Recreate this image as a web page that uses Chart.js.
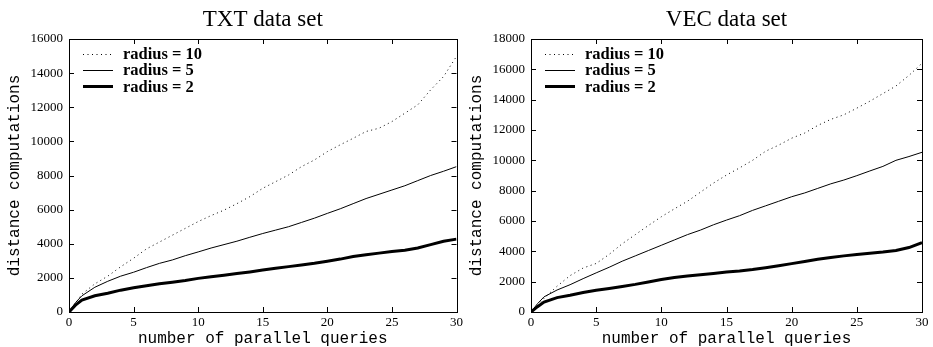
<!DOCTYPE html>
<html>
<head>
<meta charset="utf-8">
<script src="https://cdn.jsdelivr.net/npm/chart.js@4"></script>
<style>
  html, body { margin: 0; padding: 0; background: #fff; }
  body { width: 933px; height: 347px; position: relative; overflow: hidden; }
  canvas { position: absolute; top: 0; }
  #txt { left: 0; }
  #vec { left: 462px; }
</style>
</head>
<body>
<canvas id="txt" width="466" height="347"></canvas>
<canvas id="vec" width="471" height="347"></canvas>
<script>
// number of parallel queries (x values shared by all series)
const queries = [0, 0.5, 1, 2, 3, 4, 5, 6, 7, 8, 9, 10, 11, 12, 13, 14, 15,
  16, 17, 18, 19, 20, 21, 22, 23, 24, 25, 26, 27, 28, 29, 30];

const seriesLabels = ['radius = 10', 'radius = 5', 'radius = 2'];

// TXT data set
const txtRadius10 = [0, 500, 1050, 1650, 2100, 2650, 3150, 3700, 4100, 4500, 4900, 5300,
  5650, 5970, 6350, 6760, 7250, 7640, 8030, 8520, 8910, 9400, 9800, 10180, 10580, 10770,
  11160, 11650, 12140, 13020, 13800, 14980];
const txtRadius5 = [0, 550, 950, 1450, 1800, 2100, 2330, 2600, 2850, 3050, 3300, 3520,
  3750, 3950, 4150, 4380, 4600, 4800, 5000, 5250, 5500, 5780, 6050, 6350, 6650, 6900,
  7150, 7400, 7700, 8000, 8250, 8520];
const txtRadius2 = [0, 400, 700, 950, 1100, 1280, 1420, 1540, 1650, 1750, 1850, 1970,
  2070, 2160, 2250, 2350, 2460, 2560, 2660, 2760, 2860, 2980, 3100, 3250, 3350, 3450,
  3540, 3620, 3750, 3950, 4150, 4270];

// VEC data set
const vecRadius10 = [0, 450, 900, 1700, 2400, 2900, 3200, 3800, 4500, 5100, 5700, 6280,
  6800, 7300, 7900, 8500, 9030, 9500, 10000, 10600, 11000, 11460, 11800, 12300, 12700,
  13000, 13440, 13900, 14400, 14900, 15600, 16400];
const vecRadius5 = [0, 550, 1000, 1450, 1800, 2200, 2580, 2950, 3350, 3700, 4050, 4400,
  4750, 5100, 5400, 5750, 6060, 6350, 6700, 7000, 7300, 7600, 7850, 8150, 8450, 8700,
  8990, 9300, 9600, 10000, 10250, 10530];
const vecRadius2 = [0, 350, 650, 950, 1100, 1280, 1430, 1550, 1680, 1820, 1980, 2140,
  2280, 2370, 2450, 2540, 2640, 2700, 2800, 2920, 3050, 3190, 3330, 3480, 3600, 3700,
  3790, 3880, 3950, 4050, 4250, 4580];

const serif = "'Liberation Serif', 'Times New Roman', serif";
const mono = "'Liberation Mono', 'Courier New', monospace";

// line styles for radius 10 / 5 / 2
const styles = [
  { borderWidth: 1, borderDash: [1, 3.5] },
  { borderWidth: 1, borderDash: [] },
  { borderWidth: 3, borderDash: [] }
];

function pairs(ys) {
  return ys.map((y, i) => ({ x: queries[i], y: y }));
}

// frame + inward ticks on all four sides
const framePlugin = {
  id: 'frame',
  afterDraw(chart) {
    const { ctx, chartArea: a, scales } = chart;
    const len = 5;
    ctx.save();
    ctx.strokeStyle = '#000';
    ctx.lineWidth = 1;
    ctx.setLineDash([]);
    ctx.strokeRect(Math.round(a.left) + 0.5, Math.round(a.top) + 0.5,
      Math.round(a.right - a.left), Math.round(a.bottom - a.top));
    ctx.beginPath();
    scales.x.ticks.forEach(t => {
      const px = Math.round(scales.x.getPixelForValue(t.value)) + 0.5;
      ctx.moveTo(px, a.bottom); ctx.lineTo(px, a.bottom - len);
      ctx.moveTo(px, a.top); ctx.lineTo(px, a.top + len);
    });
    scales.y.ticks.forEach(t => {
      const py = Math.round(scales.y.getPixelForValue(t.value)) + 0.5;
      ctx.moveTo(a.left, py); ctx.lineTo(a.left + len, py);
      ctx.moveTo(a.right, py); ctx.lineTo(a.right - len, py);
    });
    ctx.stroke();
    ctx.restore();
  }
};

// legend in the top-left corner of the plot
const cornerLegend = {
  id: 'cornerLegend',
  afterDraw(chart) {
    const { ctx, chartArea: a } = chart;
    ctx.save();
    ctx.font = 'bold 16.5px ' + serif;
    ctx.fillStyle = '#000';
    ctx.textBaseline = 'middle';
    chart.data.datasets.forEach((ds, i) => {
      const y = a.top + 15 + i * 16.2;
      ctx.strokeStyle = '#000';
      ctx.lineWidth = ds.borderWidth;
      ctx.setLineDash(ds.borderDash);
      ctx.beginPath();
      ctx.moveTo(a.left + 14, Math.round(y) + 0.5);
      ctx.lineTo(a.left + 44, Math.round(y) + 0.5);
      ctx.stroke();
      ctx.fillText(ds.label, a.left + 54, y + 1);
    });
    ctx.restore();
  }
};

function makeChart(id, title, yMax, series, rightPad) {
  const datasets = series.map((ys, i) => ({
    label: seriesLabels[i],
    data: pairs(ys),
    borderColor: '#000',
    borderWidth: styles[i].borderWidth,
    borderDash: styles[i].borderDash,
    pointRadius: 0,
    tension: 0,
    fill: false
  }));

  return new Chart(document.getElementById(id), {
    type: 'line',
    data: { datasets: datasets },
    options: {
      responsive: false,
      animation: false,
      devicePixelRatio: 1,
      layout: { padding: { left: 0, right: rightPad, top: 0, bottom: 0 } },
      plugins: {
        legend: { display: false },
        tooltip: { enabled: false },
        title: {
          display: true,
          text: title,
          fullSize: false,
          color: '#000',
          font: { family: serif, size: 23, weight: 'normal', lineHeight: 1.2 },
          padding: { top: 6, bottom: 5.4 }
        }
      },
      scales: {
        x: {
          type: 'linear',
          min: 0,
          max: 30,
          grid: { display: false, drawTicks: false },
          border: { display: false },
          ticks: {
            stepSize: 5,
            padding: 3,
            maxRotation: 0,
            color: '#000',
            font: { family: serif, size: 13 },
            callback: v => String(v)
          },
          title: {
            display: true,
            text: 'number of parallel queries',
            color: '#000',
            font: { family: mono, size: 16, lineHeight: 1 },
            padding: { top: 0, bottom: 0 }
          },
          afterFit(scale) { scale.height = 35; }
        },
        y: {
          type: 'linear',
          min: 0,
          max: yMax,
          grid: { display: false, drawTicks: false },
          border: { display: false },
          ticks: {
            stepSize: 2000,
            padding: 6,
            color: '#000',
            font: { family: serif, size: 13 },
            callback: v => String(v)
          },
          title: {
            display: true,
            text: 'distance computations',
            color: '#000',
            font: { family: mono, size: 16, lineHeight: 1 },
            padding: { top: 7, bottom: 0 }
          },
          afterFit(scale) { scale.width = 69; }
        }
      }
    },
    plugins: [framePlugin, cornerLegend]
  });
}

makeChart('txt', 'TXT data set', 16000, [txtRadius10, txtRadius5, txtRadius2], 7);
makeChart('vec', 'VEC data set', 18000, [vecRadius10, vecRadius5, vecRadius2], 11);
</script>
</body>
</html>
